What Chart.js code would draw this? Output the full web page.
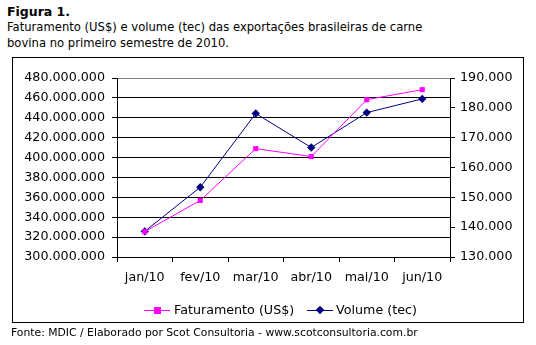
<!DOCTYPE html>
<html>
<head>
<meta charset="utf-8">
<script src="https://cdn.jsdelivr.net/npm/chart.js@4"></script>
<style>
  html, body { margin:0; padding:0; background:#fff; }
  body { width:536px; height:345px; position:relative; overflow:hidden; font-family:"DejaVu Sans", Verdana, sans-serif; color:#000; }
  .t { position:absolute; left:7px; white-space:nowrap; }
  #fig { top:4px; font-weight:bold; font-size:12.5px; line-height:16px; }
  #sub { top:19px; font-size:11.6px; line-height:16px; }
  #box { position:absolute; left:12px; top:57px; width:510px; height:264px; border:1px solid #000; }
  #c { position:absolute; left:0; top:0; }
  #legend { position:absolute; top:302px; left:0; width:536px; height:16px; font-size:12.7px; line-height:16px; }
  .li { position:absolute; top:0; white-space:nowrap; }
  .ln { position:absolute; top:8px; height:1px; }
  .mk { position:absolute; }
  #foot { top:326px; left:11px; font-size:10.8px; line-height:14px; }
</style>
</head>
<body>
<div class="t" id="fig">Figura 1.</div>
<div class="t" id="sub">Faturamento (US$) e volume (tec) das exportações brasileiras de carne<br>bovina no primeiro semestre de 2010.</div>
<div id="box"></div>
<canvas id="c" width="536" height="345"></canvas>
<div id="legend"></div>
<div class="t" id="foot">Fonte: MDIC / Elaborado por Scot Consultoria - www.scotconsultoria.com.br</div>
<script>
const months = ["jan/10", "fev/10", "mar/10", "abr/10", "mai/10", "jun/10"];
const seriesNames = ["Faturamento (US$)", "Volume (tec)"];
const faturamento = [325500000, 356900000, 409000000, 401000000, 458200000, 468300000];
const volume = [138600, 153400, 178100, 166700, 178400, 183000];
const leftTicks = { min: 300000000, max: 480000000, step: 20000000 };
const rightTicks = { min: 130000, max: 190000, step: 10000 };

const PINK = "#FF00FF", NAVY = "#000080";
const fmt = v => Math.round(v).toString().replace(/\B(?=(\d{3})+(?!\d))/g, ".");
const tickFont = { family: "DejaVu Sans", size: 12.7 };

const chart = new Chart(document.getElementById("c"), {
  type: "line",
  data: {
    labels: months,
    datasets: [
      { label: seriesNames[0], data: faturamento, yAxisID: "y", borderColor: PINK, backgroundColor: PINK,
        borderWidth: 1, pointStyle: "rect", pointRadius: 3.6, pointBorderWidth: 0, tension: 0 },
      { label: seriesNames[1], data: volume, yAxisID: "y1", borderColor: NAVY, backgroundColor: NAVY,
        borderWidth: 1, pointStyle: "rectRot", pointRadius: 4.2, pointBorderWidth: 0, tension: 0 }
    ]
  },
  options: {
    responsive: false, animation: false,
    layout: { padding: { top: 78, left: 0, right: 0, bottom: 0 } },
    plugins: { legend: { display: false }, tooltip: { enabled: false }, title: { display: false } },
    scales: {
      x: {
        type: "category", offset: true,
        grid: { offset: true, drawOnChartArea: false, color: "#000", tickLength: 5 },
        border: { color: "#000", width: 1 },
        ticks: { color: "#000", font: tickFont, padding: 8, maxRotation: 0 },
        afterFit(s) { s.height = 88; }
      },
      y: {
        position: "left", min: leftTicks.min, max: leftTicks.max,
        ticks: { stepSize: leftTicks.step, callback: v => fmt(v), color: "#000", font: tickFont, padding: 7 },
        grid: { color: c => (c.tick && c.tick.value === leftTicks.max) ? "#808080" : "#000", tickColor: "#000", tickLength: 5, lineWidth: 1 },
        border: { color: "#000", width: 1 },
        afterFit(s) { s.width = 117; }
      },
      y1: {
        position: "right", min: rightTicks.min, max: rightTicks.max,
        ticks: { stepSize: rightTicks.step, callback: v => fmt(v), color: "#000", font: tickFont, padding: 5 },
        grid: { drawOnChartArea: false, color: "#000", tickLength: 5 },
        border: { color: "#000", width: 1 },
        afterFit(s) { s.width = 86; }
      }
    }
  }
});

// HTML legend built from dataset names/colours
const legend = document.getElementById("legend");
const legendPos = [{ line: 144, text: 174 }, { line: 307, text: 336 }];
chart.data.datasets.forEach((ds, i) => {
  const p = legendPos[i];
  const ln = document.createElement("div");
  ln.className = "ln"; ln.style.left = p.line + "px"; ln.style.width = "26px"; ln.style.background = ds.borderColor;
  legend.appendChild(ln);
  const mk = document.createElement("div");
  mk.className = "mk";
  if (i === 0) { mk.style.cssText = `left:${p.line+10}px;top:5px;width:7px;height:7px;background:${ds.borderColor}`; }
  else { mk.style.cssText = `left:${p.line+10}px;top:5px;width:6px;height:6px;background:${ds.borderColor};transform:rotate(45deg)`; }
  legend.appendChild(mk);
  const tx = document.createElement("div");
  tx.className = "li"; tx.style.left = p.text + "px"; tx.textContent = ds.label;
  legend.appendChild(tx);
});
</script>
</body>
</html>
